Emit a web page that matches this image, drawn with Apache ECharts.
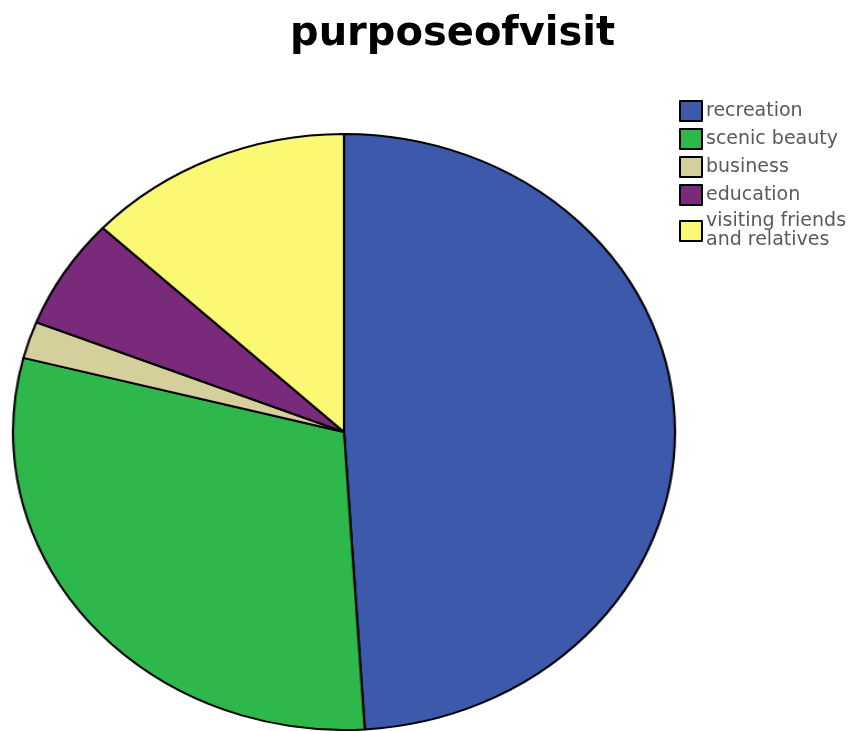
<!DOCTYPE html>
<html>
<head>
<meta charset="utf-8">
<script src="https://cdn.jsdelivr.net/npm/echarts@6/dist/echarts.min.js"></script>
<style>
  html, body { margin: 0; padding: 0; background: #fff; }
  #wrap { position: relative; width: 860px; height: 731px; overflow: hidden; }
  #pie { position: absolute; left: 0; top: 0; width: 860px; height: 731px;
         transform: scaleX(1.1107); transform-origin: 344px 432px; }
  #over { position: absolute; left: 0; top: 0; width: 860px; height: 731px; }
</style>
</head>
<body>
<div id="wrap">
  <div id="pie"></div>
  <div id="over"></div>
</div>
<script>
const titleText = 'purposeofvisit';
const categories = ['recreation', 'scenic beauty', 'business', 'education', 'visiting friends\nand relatives'];
const percentValues = [49, 30, 2, 6, 13];
const palette = ['#3d59ab', '#2eb84b', '#d4cf9b', '#7a2a7b', '#fbf874'];

const pieData = categories.map((c, i) => ({ name: c, value: percentValues[i] }));

const pieChart = echarts.init(document.getElementById('pie'), null, { renderer: 'canvas' });
pieChart.setOption({
  animation: false,
  color: palette,
  series: [{
    type: 'pie',
    center: [344, 432],
    radius: 298,
    startAngle: 90,
    clockwise: true,
    silent: true,
    label: { show: false },
    labelLine: { show: false },
    itemStyle: { borderColor: '#000', borderWidth: 2 },
    data: pieData
  }]
});

const overChart = echarts.init(document.getElementById('over'), null, { renderer: 'canvas' });
overChart.setOption({
  animation: false,
  backgroundColor: 'transparent',
  color: palette,
  title: {
    text: titleText,
    left: 285,
    top: 10,
    textStyle: { fontFamily: 'DejaVu Sans', fontWeight: 'bold', fontSize: 40, color: '#000' }
  },
  legend: {
    orient: 'vertical',
    left: 674,
    top: 95,
    itemWidth: 22,
    itemHeight: 20,
    itemGap: 6,
    selectedMode: false,
    icon: 'rect',
    itemStyle: { borderColor: '#000', borderWidth: 2 },
    textStyle: { fontFamily: 'DejaVu Sans', fontSize: 19, color: '#595959', lineHeight: 19, padding: [0, 0, 0, -1] },
    data: categories
  },
  series: [{
    type: 'pie',
    radius: [0, 0],
    silent: true,
    label: { show: false },
    labelLine: { show: false },
    data: pieData
  }]
});
</script>
</body>
</html>
